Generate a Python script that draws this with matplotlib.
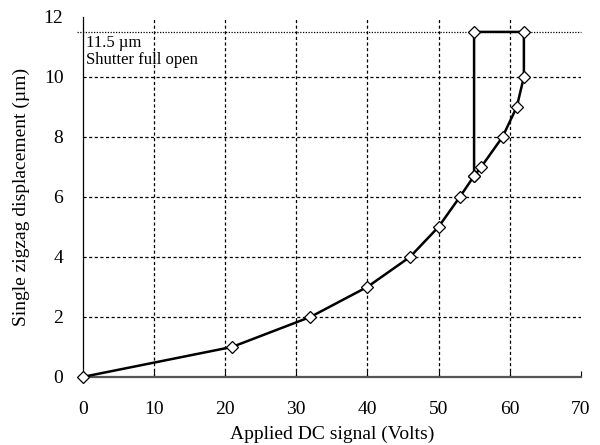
import matplotlib
matplotlib.use('Agg')
import matplotlib.pyplot as plt

# applied voltage vs. single zigzag displacement (hysteresis loop at the top)
volts = [0, 21, 32, 40, 46, 50, 53, 55, 56, 59, 61, 62, 62, 55, 55]
disp = [0, 1, 2, 3, 4, 5, 6, 6.7, 7, 8, 9, 10, 11.5, 11.5, 6.7]
full_open = 11.5

plt.rcParams['font.family'] = ['Liberation Serif', 'DejaVu Serif']

fig = plt.figure(figsize=(6, 4.45), dpi=100)
ax = fig.add_axes([0.138, 0.153, 0.83, 0.809])

ax.set_xlim(0, 70)
ax.set_ylim(0, 12)
ax.set_xticks(range(0, 71, 10))
ax.set_yticks(range(0, 13, 2))

# dashed grid
for x in range(10, 70, 10):
    ax.axvline(x, color='black', ls=(0, (2.5, 2)), lw=0.9, zorder=1)
for y in range(2, 12, 2):
    ax.axhline(y, color='black', ls=(0, (2.5, 2)), lw=0.9, zorder=1)

# dotted line at full open
ax.plot([-0.8, 70], [full_open, full_open], color='black', ls=(0, (1, 1.2)),
        lw=0.9, zorder=1, clip_on=False)

ax.plot(volts, disp, color='black', lw=1.8, marker='D', ms=6.5,
        mfc='white', mec='black', mew=0.9, zorder=3, clip_on=False)

ax.text(0.5, 11.4, '11.5 µm\nShutter full open', fontsize=12,
        va='top', ha='left', linespacing=1.1)

ax.spines['top'].set_visible(False)
ax.spines['right'].set_visible(False)
ax.spines['left'].set_linewidth(0.9)
ax.spines['bottom'].set_color('#555555')
ax.spines['bottom'].set_linewidth(1.6)
ax.tick_params(axis='x', direction='in', length=4, labelsize=14, pad=17)
ax.tick_params(axis='y', direction='in', length=0, labelsize=14, pad=14)

ax.set_xlabel('Applied DC signal (Volts)', fontsize=14, labelpad=6)
ax.set_ylabel('Single zigzag displacement (µm)', fontsize=14, labelpad=10)

fig.savefig('out.png', dpi=100)
